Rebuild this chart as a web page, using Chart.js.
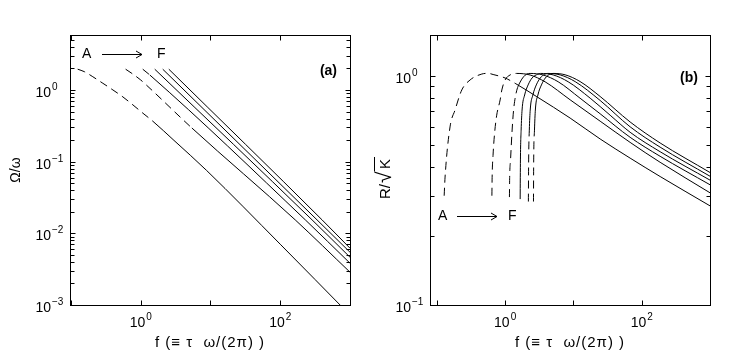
<!DOCTYPE html>
<html><head><meta charset="utf-8">
<script src="https://cdn.jsdelivr.net/npm/chart.js@4"></script>
<style>
html,body{margin:0;padding:0;background:#fff;}
#wrap{position:relative;width:729px;height:353px;overflow:hidden;}
canvas{position:absolute;top:0;}
#ca{left:0;}
#cb{left:365px;}
</style></head><body>
<div id="wrap"><canvas id="ca" width="365" height="353"></canvas><canvas id="cb" width="364" height="353"></canvas></div>
<script>
const NAMES = ['A','B','C','D','E','F'];

// ---- Panel (a): f  vs  Omega/omega ----
const aF_A = [0.125,0.156,0.206,0.287,0.40,0.556,0.775,1.08,1.50,3.0,8.8,100,1000];
const aV_A = [1.95,1.80,1.53,1.24,1.00,0.80,0.618,0.473,0.365,0.198,0.0754,0.00705,0.000723];
const aF_B = [0.608,0.75,1.0,1.22,5.41,164,1000];
const aV_B = [1.95,1.70,1.38,1.16,0.295,0.0154,0.00287];
const aF_C = [1.07,1.35,229,1000];
const aV_C = [1.95,1.62,0.0154,0.00383];
const aF_D = [1.59,286,1000];
const aV_D = [1.95,0.0154,0.00464];
const aF_E = [2.07,337,1000];
const aV_E = [1.95,0.0154,0.00545];
const aF_F = [2.53,398,1000];
const aV_F = [1.95,0.0154,0.0062];
const aDashBelow = [1.42,1.25,1.35,0,0,0];

// ---- Panel (b): f  vs  R/sqrt(K) ----
const bF_A = [0.128,0.132,0.156,0.185,0.232,0.307,0.456,0.563,0.667,1.0,1.4,2.91,8.95,24.6,67.6,186,1000];
const bV_A = [0.30,0.362,0.599,0.711,0.869,0.961,1.02,1.027,1.015,0.98,0.929,0.812,0.655,0.531,0.438,0.364,0.271];
const bF_B = [0.64,0.645,0.665,0.70,0.75,0.845,0.895,1.0,1.18,1.47,2.32,3.85,8.95,24.6,67.6,186,1000];
const bV_B = [0.30,0.36,0.45,0.56,0.67,0.786,0.869,0.961,1.01,1.026,1.01,0.943,0.787,0.635,0.513,0.420,0.309];
const bF_C = [1.156,1.165,1.20,1.266,1.33,1.45,1.66,2.08,2.32,3.60,5.97,12.5,24.6,67.6,186,1000];
const bV_C = [0.296,0.36,0.43,0.581,0.71,0.843,0.941,1.02,1.026,1.01,0.944,0.800,0.684,0.540,0.446,0.335];
const bF_D = [1.66,1.675,1.715,1.77,1.93,2.17,2.48,3.0,3.3,5.04,8.36,17.6,34.5,67.6,186,1000];
const bV_D = [0.29,0.43,0.58,0.71,0.826,0.914,0.98,1.018,1.026,1.011,0.944,0.800,0.674,0.568,0.467,0.351];
const bF_E = [2.19,2.21,2.26,2.33,2.55,2.86,3.27,3.8,4.2,6.39,10.6,24.6,67.6,186,1000];
const bV_E = [0.283,0.43,0.58,0.71,0.826,0.914,0.98,1.018,1.026,1.011,0.945,0.782,0.600,0.489,0.365];
const bF_F = [2.6,2.62,2.69,2.77,3.02,3.40,3.88,4.5,5.04,7.56,12.5,24.6,67.6,186,1000];
const bV_F = [0.283,0.43,0.58,0.71,0.826,0.914,0.98,1.018,1.026,1.012,0.946,0.814,0.630,0.510,0.379];
const bDashBelow = [1.4,1.25,1.38,0,2.24,2.64];

// ---- tick labels (decade exponents) ----
const aXTickExp = [0, 2];
const aYTickExp = [-3, -2, -1, 0];
const bXTickExp = [0, 2];
const bYTickExp = [-1, 0];

const FONT = '"Liberation Sans", Arial, Helvetica, sans-serif';
const XTITLE = 'f (\u2261 \u03C4  \u03C9/(2\u03C0) )';

function mkSets(fs, vs, dash) {
  return fs.map((f, i) => ({
    label: NAMES[i],
    data: f.map((x, j) => ({x: x, y: vs[i][j]})),
    borderColor: '#000', borderWidth: 1, pointRadius: 0, fill: false,
    cubicInterpolationMode: 'monotone',
    segment: { borderDash: c => (c.p0.parsed.x < dash[i] ? [8,5] : undefined) }
  }));
}

function line(ctx, x1, y1, x2, y2) { ctx.beginPath(); ctx.moveTo(x1, y1); ctx.lineTo(x2, y2); ctx.stroke(); }

function expText(e) { return e < 0 ? '\u2212' + (-e) : String(e); }

function drawPowRight(ctx, e, xr, base) {
  ctx.font = '14px ' + FONT; ctx.textAlign = 'right'; ctx.textBaseline = 'alphabetic';
  ctx.fillText('10', xr, base);
  ctx.font = '10px ' + FONT; ctx.textAlign = 'left';
  ctx.fillText(expText(e), xr + 1, base - 7);
}
function drawPowCenter(ctx, e, xc, base) {
  ctx.font = '14px ' + FONT; const w1 = ctx.measureText('10').width;
  ctx.font = '10px ' + FONT; const w2 = ctx.measureText(expText(e)).width;
  const x0 = xc - (w1 + 1 + w2) / 2;
  ctx.textAlign = 'left'; ctx.textBaseline = 'alphabetic';
  ctx.font = '14px ' + FONT; ctx.fillText('10', x0, base);
  ctx.font = '10px ' + FONT; ctx.fillText(expText(e), x0 + w1 + 1, base - 7);
}
function arrowText(ctx, ca, o) {
  ctx.font = '14px ' + FONT; ctx.textAlign = 'left'; ctx.textBaseline = 'alphabetic';
  ctx.fillText('A', ca.left + o.a, ca.top + o.base);
  ctx.fillText('F', ca.left + o.f, ca.top + o.base);
  const y = Math.round(ca.top + o.ay) + 0.5, x1 = ca.left + o.x1, x2 = ca.left + o.x2;
  line(ctx, x1, y, x2, y);
  line(ctx, x2 - 6, y - 3.5, x2, y);
  line(ctx, x2 - 6, y + 3.5, x2, y);
}

const framePlugin = {
  id: 'frame',
  afterDraw(chart, args, o) {
    const ctx = chart.ctx, ca = chart.chartArea, xs = chart.scales.x, ys = chart.scales.y;
    ctx.save();
    ctx.strokeStyle = '#000'; ctx.fillStyle = '#000'; ctx.lineWidth = 1;
    const L = Math.round(ca.left) + 0.5, R = Math.round(ca.right) + 0.5, T = Math.round(ca.top) + 0.5, B = Math.round(ca.bottom) + 0.5;
    ctx.strokeRect(L, T, R - L, B - T);
    for (let e = Math.ceil(Math.log10(xs.min)); e <= Math.floor(Math.log10(xs.max) + 1e-9); e++) {
      const p = Math.round(xs.getPixelForValue(Math.pow(10, e))) + 0.5;
      line(ctx, p, B, p, B - 5); line(ctx, p, T, p, T + 5);
    }
    for (let e = Math.floor(Math.log10(ys.min)); e <= Math.ceil(Math.log10(ys.max)); e++) {
      for (let k = 1; k <= 9; k++) {
        const v = k * Math.pow(10, e);
        if (v < ys.min * 0.999 || v > ys.max * 1.001) continue;
        const p = Math.round(ys.getPixelForValue(v)) + 0.5, len = k === 1 ? 5 : 4;
        line(ctx, L, p, L + len, p); line(ctx, R, p, R - len, p);
      }
    }
    o.yExp.forEach(e => drawPowRight(ctx, e, ca.left - 19, ys.getPixelForValue(Math.pow(10, e)) + 7));
    o.xExp.forEach(e => drawPowCenter(ctx, e, xs.getPixelForValue(Math.pow(10, e)), ca.bottom + 22));
    // x title
    ctx.font = '15px ' + FONT; ctx.textAlign = 'center'; ctx.textBaseline = 'alphabetic';
    try { ctx.letterSpacing = '1px'; } catch (err) {}
    ctx.fillText(o.xTitle, (ca.left + ca.right) / 2, ca.bottom + 42);
    try { ctx.letterSpacing = '0px'; } catch (err) {}
    // y title
    const cy = (ca.top + ca.bottom) / 2;
    ctx.save();
    ctx.translate(o.yTitleX, cy); ctx.rotate(-Math.PI / 2);
    if (o.sqrtTitle) {
      ctx.textBaseline = 'alphabetic'; ctx.textAlign = 'left';
      ctx.font = '15px ' + FONT;
      const wR = ctx.measureText('R/').width;
      const u0 = -29;
      ctx.fillText('R/', u0, 5);
      ctx.font = '21px ' + FONT;
      const m = ctx.measureText('\u221A');
      const uRad = u0 + wR + 1;
      ctx.fillText('\u221A', uRad, 6);
      const topY = 6 - m.actualBoundingBoxAscent + 0.5;
      const radRight = uRad + m.actualBoundingBoxRight;
      ctx.font = '15px ' + FONT;
      const wK = ctx.measureText('K').width;
      const uK = radRight + 2;
      ctx.fillText('K', uK, 5);
      line(ctx, radRight - 0.5, topY, uK + wK + 2, topY);
    } else {
      ctx.font = '14px ' + FONT; ctx.textAlign = 'center'; ctx.textBaseline = 'middle';
      ctx.fillText(o.yTitle, 0, 0);
    }
    ctx.restore();
    ctx.font = 'bold 14px ' + FONT; ctx.textAlign = 'right'; ctx.textBaseline = 'alphabetic';
    ctx.fillText(o.tag, ca.right - o.tagDx, ca.top + o.tagBase);
    arrowText(ctx, ca, o.arrow);
    ctx.restore();
  }
};

function mkChart(id, sets, xmin, ymin, ymax, pad, frameOpts) {
  return new Chart(document.getElementById(id), {
    type: 'line',
    data: { datasets: sets },
    options: {
      responsive: false, animation: false, devicePixelRatio: 1,
      layout: { padding: pad },
      scales: {
        x: { type: 'logarithmic', min: xmin, max: 1000, display: false },
        y: { type: 'logarithmic', min: ymin, max: ymax, display: false }
      },
      plugins: { legend: { display: false }, tooltip: { enabled: false }, frame: frameOpts }
    },
    plugins: [framePlugin]
  });
}

mkChart('ca',
  mkSets([aF_A,aF_B,aF_C,aF_D,aF_E,aF_F], [aV_A,aV_B,aV_C,aV_D,aV_E,aV_F], aDashBelow),
  0.097, 0.001, 5.85, {left:70, right:15, top:35, bottom:48},
  { xExp: aXTickExp, yExp: aYTickExp, xTitle: XTITLE, yTitle: '\u03A9/\u03C9', yTitleX: 16,
    tag: '(a)', tagDx: 13, tagBase: 40,
    arrow: { a: 12, f: 87, base: 23, ay: 19, x1: 32, x2: 72 } });

mkChart('cb',
  mkSets([bF_A,bF_B,bF_C,bF_D,bF_E,bF_F], [bV_A,bV_B,bV_C,bV_D,bV_E,bV_F], bDashBelow),
  0.0794, 0.1, 1.51, {left:65, right:19, top:35, bottom:48},
  { xExp: bXTickExp, yExp: bYTickExp, xTitle: XTITLE, yTitle: 'R/\u221AK', yTitleX: 20, sqrtTitle: true,
    tag: '(b)', tagDx: 12, tagBase: 47,
    arrow: { a: 8, f: 78, base: 185, ay: 181, x1: 27, x2: 67 } });
</script>
</body></html>
